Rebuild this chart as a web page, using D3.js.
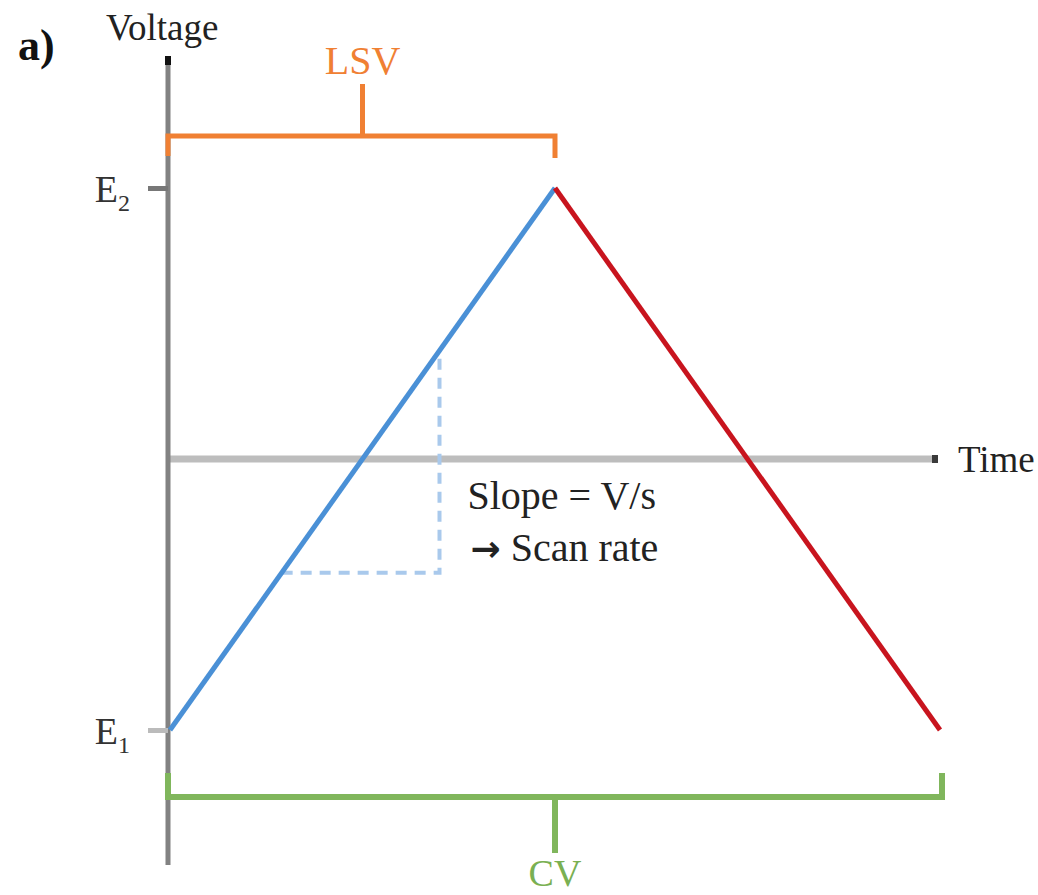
<!DOCTYPE html>
<html>
<head>
<meta charset="utf-8">
<script src="https://cdn.jsdelivr.net/npm/d3@7"></script>
<style>
  body { margin: 0; background: #fff; }
  svg { display: block; font-family: 'Liberation Serif', 'Times New Roman', serif; }
</style>
</head>
<body>
<div id="chart"></div>
<script>
// waveform data: time (arb.) vs voltage (E1 = -1, E2 = 1)
var timePoints = [0, 1, 2];
var voltages = [-1, 1, -1];
var segmentNames = ['forward', 'reverse'];
var segmentColors = ['#4a90d6', '#c8141e'];

var tickValues = [-1, 1];
var tickLabels = [['E', '1'], ['E', '2']];

// slope triangle under the forward sweep
var slopeTimes = [0.29, 0.7];
var slopeLines = [['', 'Slope = V/s'], ['\u2192', ' Scan rate']];

// brackets: [label, start time, end time]
var brackets = [
  ['LSV', 0, 1],
  ['CV', 0, 2]
];

var width = 1038, height = 895;

var x = d3.scaleLinear().domain([0, 2]).range([170, 940]);
var y = d3.scaleLinear().domain([-1, 1]).range([730, 188]);

var svg = d3.select('#chart').append('svg')
  .attr('width', width)
  .attr('height', height);

// time axis (horizontal, through V = 0)
svg.append('line')
  .attr('x1', x(0) - 2).attr('x2', x(2) - 4)
  .attr('y1', y(0)).attr('y2', y(0))
  .attr('stroke', '#bdbdbd').attr('stroke-width', 7);
svg.append('rect')
  .attr('x', x(2) - 8).attr('y', y(0) - 4)
  .attr('width', 6).attr('height', 8)
  .attr('fill', '#3a3a3a');
svg.append('text')
  .attr('x', x(2) + 18).attr('y', y(0) + 13)
  .attr('font-size', 37).attr('fill', '#222')
  .text('Time');

// voltage axis
svg.append('line')
  .attr('x1', x(0) - 2).attr('x2', x(0) - 2)
  .attr('y1', 56).attr('y2', 865)
  .attr('stroke', '#828282').attr('stroke-width', 5);
svg.append('rect')
  .attr('x', x(0) - 5).attr('y', 56)
  .attr('width', 6).attr('height', 9)
  .attr('fill', '#111');
svg.append('text')
  .attr('x', 106).attr('y', 40)
  .attr('font-size', 37).attr('fill', '#222')
  .text('Voltage');

var yAxis = d3.axisLeft(y)
  .tickValues(tickValues)
  .tickSize(20)
  .tickPadding(18)
  .tickFormat(function() { return ''; });

var gy = svg.append('g')
  .attr('transform', 'translate(' + (x(0) - 2) + ',0)')
  .call(yAxis);
gy.select('.domain').remove();
gy.selectAll('.tick line')
  .attr('stroke', function(d) { return d > 0 ? '#777' : '#bbb'; })
  .attr('stroke-width', 5);
gy.selectAll('.tick text')
  .attr('font-size', 38)
  .attr('fill', '#333')
  .attr('font-family', "'Liberation Serif', 'Times New Roman', serif")
  .attr('dy', '0.35em')
  .each(function(d) {
    var lab = tickLabels[tickValues.indexOf(d)];
    var t = d3.select(this);
    t.append('tspan').text(lab[0]);
    t.append('tspan').attr('font-size', 24).attr('dy', '0.4em').text(lab[1]);
  });

// panel label
svg.append('text')
  .attr('x', 18).attr('y', 60)
  .attr('font-size', 44).attr('font-weight', 'bold').attr('fill', '#111')
  .text('a)');

// slope triangle (dashed)
var vAt = d3.scaleLinear().domain(timePoints.slice(0, 2)).range(voltages.slice(0, 2));
var vLow = vAt(slopeTimes[0]);
var vHigh = vAt(slopeTimes[1]);
svg.append('path')
  .attr('d', d3.line()([
    [x(slopeTimes[0]), y(vLow)],
    [x(slopeTimes[1]), y(vLow)],
    [x(slopeTimes[1]), y(vHigh)]
  ]))
  .attr('fill', 'none')
  .attr('stroke', '#a9c9ec')
  .attr('stroke-width', 4)
  .attr('stroke-dasharray', '11,8');

var st = svg.selectAll('.slope-text')
  .data(slopeLines)
  .enter().append('text')
  .attr('class', 'slope-text')
  .attr('x', function(d, i) { return x(slopeTimes[1]) + 28 + i * 3; })
  .attr('y', function(d, i) { return 509 + i * 52; })
  .attr('font-size', 40)
  .attr('fill', '#222');
st.append('tspan')
  .attr('font-family', "'DejaVu Sans', sans-serif")
  .attr('font-weight', 'bold')
  .attr('font-size', 36)
  .text(function(d) { return d[0]; });
st.append('tspan')
  .text(function(d) { return d[1]; });

// waveform segments
var segments = segmentNames.map(function(name, i) {
  return [[timePoints[i], voltages[i]], [timePoints[i + 1], voltages[i + 1]]];
});
svg.selectAll('.segment')
  .data(segments)
  .enter().append('path')
  .attr('class', 'segment')
  .attr('d', d3.line().x(function(d) { return x(d[0]); }).y(function(d) { return y(d[1]); }))
  .attr('fill', 'none')
  .attr('stroke', function(d, i) { return segmentColors[i]; })
  .attr('stroke-width', 5);

// brackets
var lsv = brackets[0], cv = brackets[1];
var lsvY = y(1) - 52;
svg.append('path')
  .attr('d', 'M' + (x(lsv[1]) - 2) + ',' + (lsvY + 20) +
             'V' + lsvY + 'H' + x(lsv[2]) + 'V' + (lsvY + 22) +
             'M' + x((lsv[1] + lsv[2]) / 2) + ',' + lsvY + 'V' + (lsvY - 52))
  .attr('fill', 'none').attr('stroke', '#f08033').attr('stroke-width', 5);
svg.append('text')
  .attr('x', x((lsv[1] + lsv[2]) / 2)).attr('y', 74)
  .attr('text-anchor', 'middle')
  .attr('font-size', 40).attr('fill', '#f08033')
  .text(lsv[0]);

var cvY = y(-1) + 67;
svg.append('path')
  .attr('d', 'M' + (x(cv[1]) - 2) + ',' + (cvY - 24) +
             'V' + cvY + 'H' + (x(cv[2]) + 2) + 'V' + (cvY - 24) +
             'M' + x((cv[1] + cv[2]) / 2) + ',' + cvY + 'V' + (cvY + 56))
  .attr('fill', 'none').attr('stroke', '#80b65c').attr('stroke-width', 6);
svg.append('text')
  .attr('x', x((cv[1] + cv[2]) / 2)).attr('y', 886)
  .attr('text-anchor', 'middle')
  .attr('font-size', 38).attr('fill', '#7ab052')
  .text(cv[0]);
</script>
</body>
</html>
